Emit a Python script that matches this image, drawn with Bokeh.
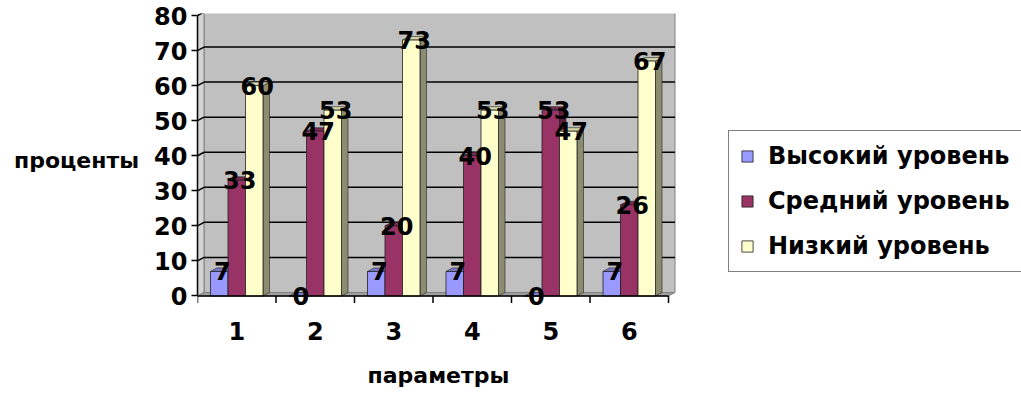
import numpy as np
from bokeh.plotting import figure
from bokeh.models import ColumnDataSource, Range1d, FixedTicker, Legend, LegendItem, Title
from bokeh.core.properties import value
from bokeh.embed import file_html
from bokeh.resources import INLINE

# ---- data ----
categories = ["1", "2", "3", "4", "5", "6"]
series_names = ["Высокий уровень", "Средний уровень", "Низкий уровень"]
high = [7, 0, 7, 7, 0, 7]
mid = [33, 47, 20, 40, 53, 26]
low = [60, 53, 73, 53, 47, 67]
y_ticks = [0, 10, 20, 30, 40, 50, 60, 70, 80]
y_title = "проценты"
x_title = "параметры"

series = [high, mid, low]
front_colors = ["#9999FF", "#993366", "#FFFFCC"]
top_colors = ["#7B7BD0", "#7A2950", "#D6D6A8"]
side_colors = ["#5C5C99", "#5C1F3D", "#8C8C70"]

# ---- geometry (pixel scale helpers) ----
PX_X = 78.5      # px per category
PX_Y = 3.506     # px per value unit
DX = 6.5 / PX_X  # 3D depth offset in x
DY = 3.5 / PX_Y  # 3D depth offset in y
GAP = 13 / PX_X
BW = 17.5 / PX_X
N = len(categories)
YMAX = y_ticks[-1]
FRAME_L, FRAME_T, FRAME_B = 197, 13, 306
FRAME_W = 1021 - FRAME_L

FONT = value("DejaVu Sans")

p = figure(width=1021, height=406,
           x_range=Range1d(0, FRAME_W / PX_X),
           y_range=Range1d(-(FRAME_B - 295.5) / PX_Y, YMAX + 2 / PX_Y),
           output_backend="svg", toolbar_location=None,
           min_border_left=FRAME_L, min_border_right=0,
           min_border_top=FRAME_T, min_border_bottom=406 - FRAME_B)
p.outline_line_color = None
p.xgrid.visible = False
p.ygrid.visible = False
p.background_fill_color = "white"
p.border_fill_color = "white"

# ---- 3D walls ----
p.quad(left=[DX], right=[N + DX], bottom=[DY], top=[YMAX + DY],
       fill_color="#C0C0C0", line_color="#808080", line_width=1)
p.patch([0, DX, DX, 0], [0, DY, YMAX + DY, YMAX],
        fill_color="#D4D4D4", line_color="#808080", line_width=1)
p.patch([0, N, N + DX, DX], [0, 0, DY, DY],
        fill_color="#A0A0A0", line_color="#808080", line_width=1)

# gridlines on the back wall
gv = [v for v in y_ticks if v > 0]
p.segment(x0=[0] * len(gv), y0=gv, x1=[DX] * len(gv), y1=[v + DY for v in gv],
          line_color="#000000", line_width=1.5)
p.segment(x0=[DX] * len(gv), y0=[v + DY for v in gv], x1=[N + DX] * len(gv),
          y1=[v + DY for v in gv], line_color="#000000", line_width=1.5)

# ---- bars ----
front_renderers = []
label_x, label_y, label_t = [], [], []
for s, vals in enumerate(series):
    x0 = [i + GAP + s * BW for i in range(N)]
    x1 = [x + BW for x in x0]
    side_xs = [[a, a + DX, a + DX, a] for a in x1]
    side_ys = [[0, DY, v + DY, v] for v in vals]
    p.patches(side_xs, side_ys, fill_color=side_colors[s], line_color="#202020", line_width=0.6)
    top_xs = [[a, b, b + DX, a + DX] for a, b in zip(x0, x1)]
    top_ys = [[v, v, v + DY, v + DY] for v in vals]
    p.patches(top_xs, top_ys, fill_color=top_colors[s], line_color="#202020", line_width=0.6)
    src = ColumnDataSource(dict(left=x0, right=x1, bottom=[0] * N, top=vals))
    r = p.quad(left="left", right="right", bottom="bottom", top="top", source=src,
               fill_color=front_colors[s], line_color="#202020", line_width=0.8)
    front_renderers.append(r)
    for a, b, v in zip(x0, x1, vals):
        label_x.append((a + b) / 2 + 3 / PX_X)
        label_y.append(v)
        label_t.append(str(v))

# axis line at zero and category boundary ticks
p.segment(x0=[0], y0=[0], x1=[N], y1=[0], line_color="#000000", line_width=1.5)
bx = list(range(N + 1))
p.segment(x0=bx, y0=[0] * len(bx), x1=bx, y1=[-7 / PX_Y] * len(bx),
          line_color="#000000", line_width=1.5)

# value labels
p.text(x=label_x, y=label_y, text=label_t, text_font=FONT, text_font_style="bold",
       text_font_size="24px", text_align="center", text_baseline="middle",
       text_color="#000000")

# ---- axes ----
ya = p.yaxis[0]
ya.ticker = FixedTicker(ticks=y_ticks)
ya.bounds = (0, YMAX)
ya.axis_line_color = "#000000"
ya.axis_line_width = 1.5
ya.major_tick_line_color = "#000000"
ya.major_tick_line_width = 1.5
ya.major_tick_out = 6
ya.major_tick_in = 0
ya.minor_tick_line_color = None
ya.major_label_text_font = "DejaVu Sans"
ya.major_label_text_font_style = "bold"
ya.major_label_text_font_size = "24px"
ya.major_label_text_color = "#000000"
ya.major_label_standoff = 4
ya.axis_label = y_title
ya.axis_label_orientation = "horizontal"
ya.axis_label_text_font = "DejaVu Sans"
ya.axis_label_text_font_style = "bold"
ya.axis_label_text_font_size = "22px"
ya.axis_label_text_color = "#000000"
ya.axis_label_standoff = 12

xa = p.xaxis[0]
centers = [i + 0.5 for i in range(N)]
xa.ticker = FixedTicker(ticks=centers)
xa.major_label_overrides = {c: lab for c, lab in zip(centers, categories)}
xa.axis_line_color = None
xa.major_tick_line_color = None
xa.major_tick_out = 0
xa.major_tick_in = 0
xa.minor_tick_line_color = None
xa.major_label_text_font = "DejaVu Sans"
xa.major_label_text_font_style = "bold"
xa.major_label_text_font_size = "24px"
xa.major_label_text_color = "#000000"
xa.major_label_standoff = 15

xt = Title(text=x_title, align="left", offset=367 - FRAME_L,
           text_font="DejaVu Sans", text_font_style="bold", text_font_size="22px",
           text_color="#000000", standoff=37)
p.add_layout(xt, "below")

# ---- legend ----
legend = Legend(items=[LegendItem(label=n, renderers=[r]) for n, r in zip(series_names, front_renderers)],
                location=(728 - FRAME_L, FRAME_B - 272))
legend.border_line_color = "#000000"
legend.border_line_width = 1
legend.background_fill_color = "white"
legend.background_fill_alpha = 1
legend.label_text_font = "DejaVu Sans"
legend.label_text_font_style = "bold"
legend.label_text_font_size = "24px"
legend.label_text_color = "#000000"
legend.glyph_width = 14
legend.glyph_height = 14
legend.label_standoff = 14
legend.label_height = 28
legend.spacing = 17
legend.padding = 11
legend.margin = 0
p.add_layout(legend)

open("out.html", "w").write(file_html(p, INLINE))
